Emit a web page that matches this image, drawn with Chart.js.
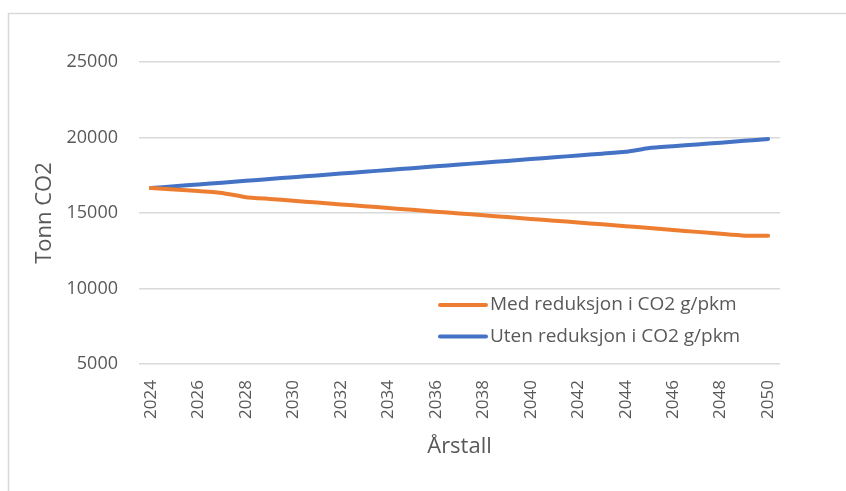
<!DOCTYPE html>
<html>
<head>
<meta charset="utf-8">
<script src="https://cdn.jsdelivr.net/npm/chart.js@4/dist/chart.umd.min.js"></script>
<style>
	html, body { margin: 0; padding: 0; background: #fff; }
	#wrap { width: 846px; height: 491px; position: relative; }
</style>
</head>
<body>
<div id="wrap"><canvas id="chartLine" width="846" height="491"></canvas></div>
<script>
// years on the x axis
const years = [];
for (let y = 2024; y <= 2050; y++) years.push(String(y));

// values (tonn CO2)
const medReduksjon = [
	16650, 16550, 16450, 16330, 16050, 15930, 15810, 15690, 15570, 15450,
	15330, 15210, 15090, 14970, 14850, 14730, 14610, 14490, 14370, 14250,
	14130, 14000, 13870, 13750, 13620, 13500, 13500,
];
const utenReduksjon = [
	16650, 16770, 16890, 17010, 17130, 17250, 17370, 17490, 17610, 17730,
	17850, 17970, 18090, 18210, 18330, 18450, 18570, 18690, 18810, 18930,
	19050, 19300, 19420, 19540, 19660, 19780, 19900,
];
const seriesNames = ['Med reduksjon i CO2 g/pkm', 'Uten reduksjon i CO2 g/pkm'];
const yMin = 5000;
const yMax = 25000;
const yStep = 5000;

const textColor = '#595959';
const gridColor = '#d9d9d9';
const fontFamily = '"Open Sans", Lato, sans-serif';

// white background plus the thin frame round the chart
const framePlugin = {
	id: 'frame',
	beforeDraw(chart) {
		const { ctx, width, height } = chart;
		ctx.save();
		ctx.fillStyle = '#fff';
		ctx.fillRect(0, 0, width, height);
		ctx.strokeStyle = gridColor;
		ctx.lineWidth = 1.5;
		ctx.beginPath();
		ctx.moveTo(8.5, height);
		ctx.lineTo(8.5, 13.5);
		ctx.lineTo(width, 13.5);
		ctx.stroke();
		ctx.restore();
	},
};

// legend sits inside the plot, lower right, like the excel original
const insideLegend = {
	id: 'insideLegend',
	afterDraw(chart) {
		const { ctx, chartArea } = chart;
		ctx.save();
		ctx.font = '19px ' + fontFamily;
		ctx.textBaseline = 'middle';
		ctx.textAlign = 'left';
		chart.data.datasets.forEach((ds, i) => {
			const y = chartArea.top + 243 + i * 31.5;
			const x0 = chartArea.left + 299;
			ctx.strokeStyle = ds.borderColor;
			ctx.lineWidth = 4;
			ctx.lineCap = 'round';
			ctx.beginPath();
			ctx.moveTo(x0 + 2, y);
			ctx.lineTo(x0 + 48, y);
			ctx.stroke();
			ctx.fillStyle = textColor;
			ctx.fillText(ds.label, x0 + 52, y);
		});
		ctx.restore();
	},
};

const chartDoc = document.getElementById('chartLine');
new Chart(chartDoc, {
	type: 'line',
	data: {
		labels: years,
		datasets: [
			{
				label: seriesNames[0],
				data: medReduksjon,
				borderColor: '#ED7D31',
				backgroundColor: '#ED7D31',
			},
			{
				label: seriesNames[1],
				data: utenReduksjon,
				borderColor: '#4472C4',
				backgroundColor: '#4472C4',
			},
		],
	},
	options: {
		responsive: false,
		animation: false,
		devicePixelRatio: 1,
		layout: { padding: { left: 28, right: 66, top: 62, bottom: 27 } },
		elements: {
			point: { radius: 0, hoverRadius: 0 },
			line: { borderWidth: 4, tension: 0.15, borderCapStyle: 'round', borderJoinStyle: 'round' },
		},
		plugins: {
			legend: { display: false },
			tooltip: { enabled: false },
		},
		scales: {
			x: {
				offset: true,
				grid: { display: false, drawTicks: false },
				border: { display: false },
				ticks: {
					autoSkip: false,
					minRotation: 90,
					maxRotation: 90,
					padding: 16,
					color: textColor,
					font: { family: fontFamily, size: 17 },
					callback: function (val, idx) {
						return idx % 2 === 0 ? this.getLabelForValue(val) : '';
					},
				},
				title: {
					display: true,
					text: 'Årstall',
					color: textColor,
					font: { family: fontFamily, size: 22 },
					padding: { top: 4, bottom: 4 },
				},
				afterFit(scale) { scale.height = 100; },
			},
			y: {
				min: yMin,
				max: yMax,
				grid: { color: gridColor, lineWidth: 1.5, drawTicks: false },
				border: { display: false },
				ticks: {
					stepSize: yStep,
					padding: 21,
					color: textColor,
					font: { family: fontFamily, size: 18 },
					callback: (v) => String(v),
				},
				title: {
					display: true,
					text: 'Tonn CO2',
					color: textColor,
					font: { family: fontFamily, size: 22 },
					padding: { top: 4, bottom: 4 },
				},
				afterFit(scale) { scale.width = 111; },
			},
		},
	},
	plugins: [framePlugin, insideLegend],
});
</script>
</body>
</html>
